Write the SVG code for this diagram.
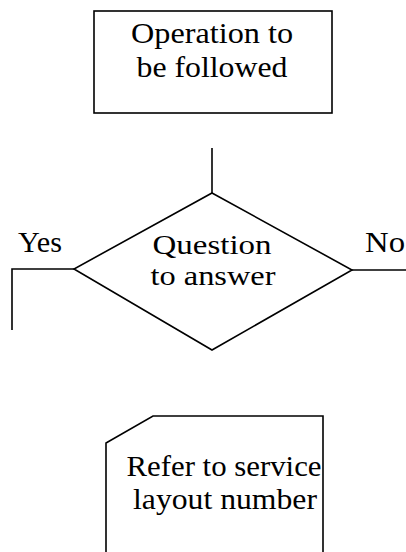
<svg xmlns="http://www.w3.org/2000/svg" width="406" height="552" viewBox="0 0 406 552">
<style>
.s{fill:none;stroke:#000;stroke-width:1.6}
.t{font-family:"Liberation Serif","Times New Roman",serif;font-size:29px;fill:#000;text-anchor:middle}
.q{font-size:27px}
</style>
<rect width="406" height="552" fill="#fff"/>
<g id="operation">
<rect class="s" x="94" y="11" width="238" height="102"/>
<text class="t" x="212" y="43" textLength="162" lengthAdjust="spacingAndGlyphs">Operation to</text>
<text class="t" x="212" y="77" textLength="151" lengthAdjust="spacingAndGlyphs">be followed</text>
</g>
<g id="question">
<polygon class="s" points="212,193 352,270 212,350 74,269"/>
<text class="t q" x="212" y="254" textLength="119" lengthAdjust="spacingAndGlyphs">Question</text>
<text class="t q" x="213" y="285" textLength="125" lengthAdjust="spacingAndGlyphs">to answer</text>
</g>
<g id="reference">
<path class="s" d="M106,553 V443 L153,416 H323 V553"/>
<text class="t" x="224" y="476" textLength="195" lengthAdjust="spacingAndGlyphs">Refer to service</text>
<text class="t" x="225" y="509" textLength="184" lengthAdjust="spacingAndGlyphs">layout number</text>
</g>
<g id="connectors">
<path class="s" d="M212,148 V193"/>
<path class="s" d="M74,269 H12 V330"/>
<path class="s" d="M352,270 H406"/>
<text class="t" x="40" y="252" textLength="44" lengthAdjust="spacingAndGlyphs">Yes</text>
<text class="t" x="385" y="252" textLength="40" lengthAdjust="spacingAndGlyphs">No</text>
</g>
</svg>
